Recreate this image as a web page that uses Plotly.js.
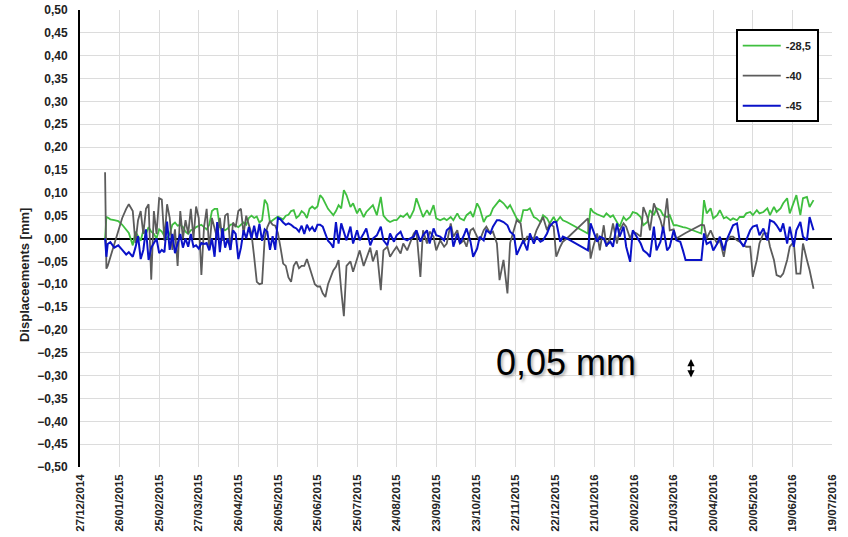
<!DOCTYPE html>
<html>
<head>
<meta charset="utf-8">
<script src="https://cdn.plot.ly/plotly-3.0.1.min.js"></script>
<style>
html,body{margin:0;padding:0;background:#ffffff;}
#chart{width:848px;height:537px;}
</style>
</head>
<body>
<div id="chart"></div>
<script>
// ---- data (days since 27/12/2014, values in mm) ----
const startDate = '2014-12-27';
const endDate = '2016-07-19';
const seriesNames = ['-28,5', '-40', '-45'];
const yTitle = 'Displaceements [mm]';
const noteText = '0,05 mm';

const dayOffsets = [
  19,20,21,23,26,29,32,35,37,40, 42,44,46,48,50,52,54,56,58,60,
  62,64,66,68,70,72,74,76,78,80, 82,84,86,88,90,92,94,96,98,100,
  102,104,106,108,110,112,114,116,118,120, 122,124,126,128,130,132,134,136,138,140,
  142,144,146,148,150,152,154,156,158,160, 162,164,166,168,170,172,174,176,178,180,
  182,184,186,188,190,192,194,196,198,
  200,202,205,207,210,212,215,217,220,222, 225,228,230,233,235,238,240,243,245,248,
  250,253,255,258,260,263,265,268,270,273, 276,278,281,283,286,288,291,293,296,298,
  301,303,306,308,311,313,316,318,321,324, 326,329,331,334,336,339,341,344,346,349,
  351,354,356,359,361,364,366,369,
  385,387,389,392,394,397,399,402,404,407, 409,412,414,417,419,422,425,427,430,432,
  435,437,440,442,445,447,450,452,455,457, 459,471,473,475,478,480,483,485,488,490,
  493,495,498,500,503,505,508,510,513,515, 518,521,523,526,528,531,533,536,538,541,
  543,546,548,551,553,556
];

const values285 = [
  0,0.047,0.046,0.042,0.04,0.038,0.03,0.02,0.012,-0.015, 0.015,0.005,-0.005,0.018,0.01,0.025,0.015,0.01,0,0.02,
  0.015,0.005,0,0.01,0.03,0.035,0.028,0.03,0.025,0.015, 0.01,0.018,0.02,0.025,0.028,0.03,0.025,0.02,0.03,0.06,
  0.065,0.065,0.025,0.02,0.018,0.022,0.03,0.032,0.028,0.025, 0.03,0.035,0.03,0.045,0.05,0.045,0.048,0.035,0.04,0.085,
  0.075,0.035,0.04,0.045,0.048,0.045,0.042,0.05,0.052,0.06, 0.062,0.045,0.05,0.06,0.055,0.045,0.065,0.07,0.065,0.07,
  0.095,0.088,0.075,0.065,0.058,0.051,0.06,0.073,0.066,
  0.106,0.095,0.069,0.077,0.055,0.066,0.047,0.058,0.066,0.073, 0.051,0.091,0.05,0.04,0.036,0.04,0.04,0.05,0.047,0.055,
  0.044,0.062,0.088,0.062,0.047,0.062,0.051,0.073,0.044,0.04, 0.044,0.04,0.047,0.04,0.055,0.044,0.04,0.051,0.058,0.047,
  0.077,0.066,0.036,0.047,0.051,0.066,0.077,0.084,0.077,0.066, 0.073,0.055,0.044,0.036,0.062,0.062,0.066,0.047,0.044,0.036,
  0.051,0.044,0.033,0.047,0.036,0.047,0.04,0.036,
  0.011,0.066,0.058,0.053,0.05,0.047,0.055,0.047,0.051,0.036, 0.026,0.047,0.04,0.047,0.058,0.055,0.047,0.029,0.036,0.062,
  0.051,0.066,0.062,0.051,0.047,0.051,0.029,0.029,0.026,0.025, 0.024,0.011,0.084,0.055,0.066,0.044,0.051,0.062,0.044,0.047,
  0.04,0.044,0.04,0.047,0.047,0.055,0.058,0.051,0.062,0.055, 0.058,0.066,0.051,0.069,0.058,0.066,0.077,0.088,0.055,0.077,
  0.095,0.051,0.088,0.091,0.069,0.084
];

const values40 = [
  0.145,-0.066,-0.06,-0.04,-0.01,0.02,0.045,0.065,0.075,0.06, -0.01,0.04,0.06,0.01,0.065,0.075,-0.09,0.06,0.01,0.088,
  0.085,-0.005,0.075,0.045,-0.025,0.02,-0.06,0.06,0,0.04, 0.01,0.065,0,0.07,0.045,-0.08,0.025,0.065,-0.025,0.045,
  0.02,0,0.045,-0.005,0.05,0.055,-0.025,0.035,0.025,0.06, 0.065,0.01,0.05,0.03,0.01,-0.04,-0.095,-0.1,-0.098,0,
  0.025,0.038,0.03,0.028,0.012,-0.02,-0.055,-0.06,-0.085,-0.095, -0.06,-0.05,-0.065,-0.06,-0.06,-0.045,-0.065,-0.08,-0.1,-0.105,
  -0.105,-0.12,-0.128,-0.1,-0.084,-0.07,-0.062,-0.047,-0.113,
  -0.17,-0.06,-0.05,-0.073,-0.047,-0.026,-0.06,-0.045,-0.02,-0.05, -0.026,-0.113,-0.026,-0.018,-0.04,-0.026,-0.018,-0.033,-0.011,-0.026,
  -0.011,0.011,0.018,-0.084,0.018,-0.011,0.015,0.004,-0.026,-0.004, -0.018,-0.011,0.033,0.004,0.018,-0.011,-0.004,-0.018,0.018,0.022,
  0.004,-0.004,0.018,0.026,0.011,0.015,-0.011,-0.091,-0.047,-0.12, -0.01,0.02,0.04,0.033,-0.011,0.004,0.002,0,0.018,0.036,
  0.047,0.018,0.033,0.026,-0.04,-0.018,-0.007,0,
  0.044,-0.044,-0.018,0.011,-0.026,0.029,-0.018,0.004,0.033,-0.011, 0.018,0.033,0.026,0,0.015,0.011,0.004,0.069,0.047,0.018,
  0.077,0.062,0.04,0.018,0.088,0.018,0.02,0,0.005,0.01, 0.012,0.03,0.029,0,0.018,0.004,-0.011,-0.004,-0.04,-0.007,
  0.004,0.004,-0.004,-0.007,-0.015,-0.018,-0.018,-0.084,-0.047,-0.011, 0.011,0.011,-0.018,-0.047,-0.08,-0.084,-0.077,-0.047,-0.018,-0.007,
  -0.077,-0.077,-0.011,-0.047,-0.069,-0.11
];

const values45 = [
  0,-0.04,-0.012,-0.008,-0.02,-0.015,-0.025,-0.035,-0.03,-0.04, -0.02,0.005,-0.045,-0.025,0.02,-0.047,-0.02,-0.01,0,-0.032,
  -0.025,-0.03,0.037,-0.025,0.01,-0.032,-0.01,0.01,-0.02,0, -0.018,0.01,-0.018,-0.015,-0.022,-0.01,-0.012,-0.01,-0.026,0,
  -0.04,0.036,-0.03,0.022,-0.02,0,-0.025,0.018,0.01,-0.045, -0.02,0.018,0,0.025,0,0.028,0,0.032,-0.005,0.02,
  0.015,-0.025,0.005,-0.025,0.045,0.042,0.035,0.03,0.033,0.03, 0.025,0.022,0.015,0.028,0.01,0.03,0.018,0.025,0.015,0.03,
  0.03,0.026,0.01,-0.005,-0.011,-0.02,0.036,-0.011,0.033,
  0.015,-0.004,0.026,-0.011,0.018,-0.004,0.011,0.022,-0.015,0, 0.007,0.026,-0.004,-0.015,0.011,-0.007,0.007,0.015,0,-0.004,
  0,0.004,0.018,-0.007,0.007,0.018,-0.011,0.022,0.007,0.004, -0.004,0.018,0.026,-0.018,0.011,-0.011,0.007,0.022,-0.007,-0.04,
  -0.022,0.004,-0.004,0.018,0.011,0.026,0.04,0.04,0.036,0.029, 0.015,0.007,-0.036,-0.018,-0.004,-0.026,0.011,-0.011,0.004,-0.007,
  -0.004,0.011,0.026,0.036,0.036,-0.007,0.004,0,
  -0.026,0.033,0.018,-0.007,0.004,0,-0.015,-0.007,-0.018,0.033, 0.004,0.026,-0.018,-0.051,0.018,0.004,-0.011,-0.026,-0.033,-0.04,
  0.026,-0.026,-0.007,0.026,-0.026,-0.018,0.018,-0.004,-0.007,-0.026, -0.047,-0.047,0.011,-0.012,-0.007,-0.026,-0.011,0.004,-0.026,-0.004,
  0.018,0.029,0.033,-0.004,-0.018,-0.004,0.018,0.026,0.029,0.007, 0.022,-0.004,0.04,0.036,0.029,0.015,0.033,-0.011,0.026,-0.018,
  0.018,0.036,0.004,-0.004,0.047,0.018
];

// ---- build ----
const DAY = 86400000;
const t0 = Date.parse(startDate + 'T00:00:00Z');
const dates = dayOffsets.map(d => new Date(t0 + d * DAY).toISOString().slice(0, 10));

const FONT = 'Liberation Sans, Arial, Helvetica, sans-serif';
const colors = ['#3fbf3f', '#5c5c5c', '#0a12c8'];
const widths = [1.8, 1.8, 2];
const allValues = [values285, values40, values45];

const traces = allValues.map((v, i) => ({
  type: 'scatter',
  mode: 'lines',
  x: dates,
  y: v,
  name: seriesNames[i],
  legendgroup: 'g' + i,
  line: {color: colors[i], width: widths[i]},
  hoverinfo: 'x+y+name'
}));

const layout = {
  width: 848,
  height: 537,
  margin: {l: 80, r: 16, t: 10, b: 70, pad: 0},
  paper_bgcolor: '#ffffff',
  plot_bgcolor: '#ffffff',
  separators: ',.',
  font: {family: FONT, color: '#222222'},
  showlegend: true,
  legend: {
    x: 0.872, y: 0.958, xanchor: 'left', yanchor: 'top',
    bgcolor: '#ffffff', bordercolor: '#000000', borderwidth: 2,
    font: {family: FONT, size: 11, color: '#222222', weight: 'bold'},
    traceorder: 'grouped', tracegroupgap: 11,
    itemwidth: 38
  },
  xaxis: {
    type: 'date',
    range: [startDate, endDate],
    tick0: startDate,
    dtick: 30 * DAY,
    tickformat: '%d/%m/%Y',
    tickangle: -90,
    ticks: '',
    ticklabelstandoff: 4,
    tickfont: {family: FONT, size: 11.5, color: '#222222', weight: 'bold'},
    showgrid: true,
    gridcolor: '#dcdcdc',
    gridwidth: 1,
    showline: false,
    zeroline: false
  },
  yaxis: {
    range: [-0.5, 0.5],
    tick0: 0,
    dtick: 0.05,
    tickformat: '.2f',
    ticks: '',
    ticklabelstandoff: 8,
    tickfont: {family: FONT, size: 12, color: '#222222', weight: 'bold'},
    showgrid: true,
    gridcolor: '#dcdcdc',
    gridwidth: 1,
    showline: true,
    linecolor: '#000000',
    linewidth: 2,
    zeroline: true,
    zerolinecolor: '#000000',
    zerolinewidth: 2
  },
  annotations: [
    {
      text: yTitle, xref: 'paper', yref: 'paper',
      x: -0.0745, y: 0.42, xanchor: 'center', yanchor: 'middle',
      textangle: -90, showarrow: false,
      font: {family: FONT, size: 13, color: '#222222', weight: 'bold'}
    },
    {
      text: noteText, xref: 'paper', yref: 'paper',
      x: 0.646, y: 0.228, xanchor: 'center', yanchor: 'middle',
      showarrow: false,
      font: {family: FONT, size: 36, color: '#000000', shadow: '2px 2px 3px rgba(0,0,0,0.3)'}
    },
    {
      text: '', xref: 'paper', yref: 'paper',
      x: 0.8125, y: 0.196, ax: 0, ay: -20,
      showarrow: true, arrowside: 'end+start', arrowhead: 2,
      arrowsize: 0.9, arrowwidth: 1.6, arrowcolor: '#000000',
      standoff: 0, startstandoff: 0
    }
  ]
};

Plotly.newPlot('chart', traces, layout, {displayModeBar: false, staticPlot: true});
</script>
</body>
</html>
